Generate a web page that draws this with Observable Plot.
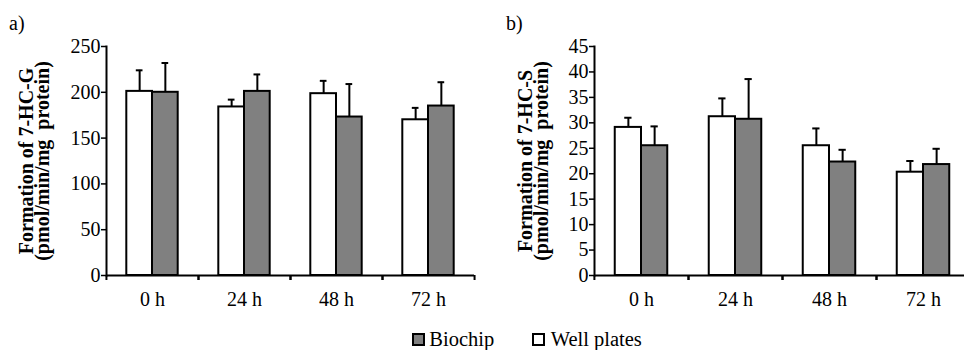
<!DOCTYPE html>
<html>
<head>
<meta charset="utf-8">
<script src="https://cdn.jsdelivr.net/npm/d3@7"></script>
<script src="https://cdn.jsdelivr.net/npm/@observablehq/plot@0.6"></script>
<style>
  html, body { margin: 0; padding: 0; background: #fff; overflow: hidden; }
  #wrap { position: relative; width: 964px; height: 350px; overflow: hidden; font-family: 'Liberation Serif', 'Times New Roman', Times, Tinos, 'Nimbus Roman', 'Nimbus Roman No9 L', 'Noto Serif', 'DejaVu Serif', serif; color: #000; }
  #wrap svg { font-family: 'Liberation Serif', 'Times New Roman', Times, Tinos, 'Nimbus Roman', 'Nimbus Roman No9 L', 'Noto Serif', 'DejaVu Serif', serif !important; font-size: 20px !important; max-width: none !important; height: 315px !important; }
  .panel { position: absolute; top: 0; }
  .tag { position: absolute; font-size: 20px; line-height: 20px; }
  #legend { position: absolute; top: 327px; left: 0; font-size: 20.5px; line-height: 24px; white-space: nowrap; }
  .sw { position: absolute; width: 9px; height: 9px; border: 2.5px solid #000; top: 5.7px; }
  .lt { position: absolute; top: 0; }
</style>
</head>
<body>
<div id="wrap">
  <div class="tag" style="left:9px; top:12.6px;">a)</div>
  <div class="tag" style="left:506px; top:12.6px;">b)</div>
  <div id="panelA" class="panel" style="left:0px; width:480px;"></div>
  <div id="panelB" class="panel" style="left:480px; width:500px;"></div>
  <div id="legend"></div>
</div>
<script>
// ---- data ----
const categories = ["0 h", "24 h", "48 h", "72 h"];
const seriesNames = ["Well plates", "Biochip"];
const legendOrder = ["Biochip", "Well plates"];
const seriesColors = ["#ffffff", "#808080"];

// a) 7-HC-G formation (pmol/min/mg protein)
const hcgWell = [201, 184, 198.5, 170];
const hcgWellErr = [23, 8, 14, 13];
const hcgBio = [200, 201, 173, 185];
const hcgBioErr = [32, 18.5, 36, 26];
const hcgTicks = [0, 50, 100, 150, 200, 250];

// b) 7-HC-S formation (pmol/min/mg protein)
const hcsWell = [29.1, 31.2, 25.5, 20.3];
const hcsWellErr = [1.9, 3.6, 3.4, 2.2];
const hcsBio = [25.5, 30.7, 22.3, 21.8];
const hcsBioErr = [3.8, 7.9, 2.4, 3.1];
const hcsTicks = [0, 5, 10, 15, 20, 25, 30, 35, 40, 45];

const FONT = "'Liberation Serif', 'Times New Roman', Times, Tinos, 'Nimbus Roman', 'Nimbus Roman No9 L', 'Noto Serif', 'DejaVu Serif', serif";

function table(well, wellErr, bio, bioErr) {
  const rows = [];
  categories.forEach((c, i) => {
    rows.push({cat: c, series: seriesNames[0], value: well[i], err: wellErr[i]});
    rows.push({cat: c, series: seriesNames[1], value: bio[i], err: bioErr[i]});
  });
  return rows;
}

function panel({rows, ticks, yMax, title, width, marginLeft, marginRight, titleDx}) {
  const half = (width - marginLeft - marginRight) / categories.length / 2;
  return Plot.plot({
    width,
    height: 315,
    marginTop: 46,
    marginBottom: 40,
    marginLeft,
    marginRight,
    style: `font-family: ${FONT}; font-size: 20px; color: #000; background: transparent; overflow: visible; max-width: none;`,
    fx: {domain: categories, padding: 0, label: null},
    x: {domain: seriesNames, paddingInner: 0, paddingOuter: 0.79, axis: null, round: false},
    y: {domain: [0, yMax], label: null},
    color: {domain: seriesNames, range: seriesColors},
    marks: [
      Plot.ruleX(rows, {fx: "cat", x: "series", y1: "value", y2: d => d.value + d.err, stroke: "#000", strokeWidth: 2}),
      Plot.tickY(rows, {fx: "cat", x: "series", y: d => d.value + d.err, stroke: "#000", strokeWidth: 2, insetLeft: 9.5, insetRight: 9.5}),
      Plot.barY(rows, {fx: "cat", x: "series", y: "value", fill: "series", stroke: "#000", strokeWidth: 2}),
      Plot.ruleY([0], {stroke: "#000", strokeWidth: 2}),
      Plot.frame({anchor: "left", facetAnchor: "left", stroke: "#000", strokeWidth: 2}),
      Plot.axisY({ticks, tickSize: 5, tickPadding: 1, strokeWidth: 1.5, label: null, tickFormat: d => String(d), fontFamily: FONT}),
      Plot.axisFx({anchor: "bottom", tickSize: 0, tickPadding: 16, label: null, fontFamily: FONT}),
      Plot.axisFx({anchor: "bottom", text: null, tickSize: 5, strokeWidth: 2, dx: half, label: null}),
      Plot.axisFx({anchor: "bottom", text: null, tickSize: 5, strokeWidth: 2, dx: -half, label: null}),
      Plot.text([title], {frameAnchor: "left", facetAnchor: "left", textAnchor: "middle", lineAnchor: "middle", text: d => d, rotate: -90, dx: titleDx, lineHeight: 0.8, fontWeight: "bold", fontSize: 20, fontFamily: FONT, fill: "#000"})
    ]
  });
}

document.getElementById("panelA").appendChild(panel({
  rows: table(hcgWell, hcgWellErr, hcgBio, hcgBioErr),
  ticks: hcgTicks, yMax: 250,
  title: "Formation of 7-HC-G\n(pmol/min/mg  protein)",
  width: 480, marginLeft: 105.5, marginRight: 6, titleDx: -70.6
}));

document.getElementById("panelB").appendChild(panel({
  rows: table(hcsWell, hcsWellErr, hcsBio, hcsBioErr),
  ticks: hcsTicks, yMax: 45,
  title: "Formation of 7-HC-S\n(pmol/min/mg  protein)",
  width: 500, marginLeft: 114, marginRight: 9.2, titleDx: -59.4
}));

// legend
const legend = document.getElementById("legend");
const legendPos = [{sw: 411.7, tx: 429.3}, {sw: 531.7, tx: 550.7}];
legendOrder.forEach((name, i) => {
  const sw = document.createElement("div");
  sw.className = "sw";
  sw.style.left = legendPos[i].sw + "px";
  sw.style.background = seriesColors[seriesNames.indexOf(name)];
  legend.appendChild(sw);
  const t = document.createElement("div");
  t.className = "lt";
  t.style.left = legendPos[i].tx + "px";
  t.textContent = name;
  legend.appendChild(t);
});
</script>
</body>
</html>
